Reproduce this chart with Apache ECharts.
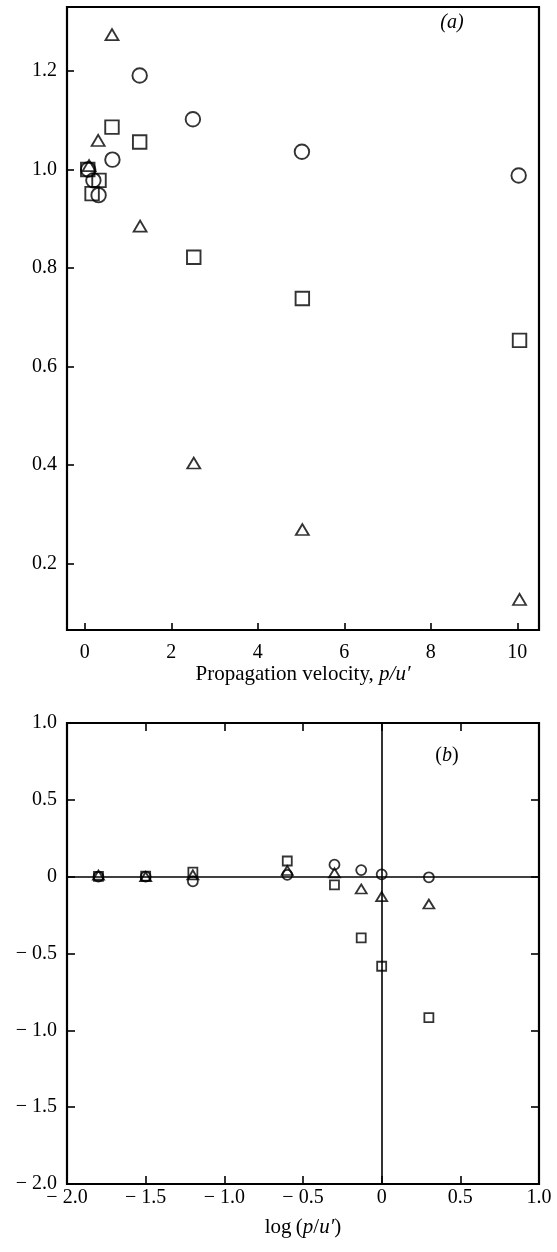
<!DOCTYPE html>
<html>
<head>
<meta charset="utf-8">
<script src="https://cdn.jsdelivr.net/npm/echarts@6/dist/echarts.min.js"></script>
<style>
  html, body { margin: 0; padding: 0; background: #fff; }
  #chart { width: 557px; height: 1252px; }
</style>
</head>
<body>
<div id="chart"></div>
<script>
// (a) ratio against propagation velocity p/u'
const velCircleX   = [0.08, 0.20, 0.32, 0.64, 1.27, 2.50, 5.02, 10.03];
const velCircleY   = [1.000, 0.978, 0.948, 1.020, 1.191, 1.102, 1.036, 0.988];
const velSquareX   = [0.07, 0.33, 0.17, 0.63, 1.27, 2.52, 5.03, 10.05];
const velSquareY   = [1.000, 0.978, 0.951, 1.086, 1.056, 0.822, 0.738, 0.653];
const velTriangleX = [0.10, 0.31, 0.63, 1.28, 2.52, 5.03, 10.05];
const velTriangleY = [1.008, 1.059, 1.274, 0.885, 0.404, 0.269, 0.127];
const velTicksX = [0, 2, 4, 6, 8, 10];
const velTicksY = [0.2, 0.4, 0.6, 0.8, 1.0, 1.2];

// (b) against log(p/u')
const logX        = [-1.8, -1.5, -1.2, -0.6, -0.3, -0.13, 0.0, 0.3];
const logCircleY  = [0.000, 0.000, -0.030, 0.012, 0.078, 0.043, 0.015, -0.004];
const logTriangleY= [0.010, 0.000, 0.012, 0.040, 0.025, -0.080, -0.130, -0.178];
const logSquareY  = [0.002, 0.003, 0.030, 0.102, -0.053, -0.398, -0.583, -0.917];

const FONT = 'Liberation Serif';
const zip = (xs, ys) => xs.map((x, i) => [x, ys[i]]);
const fmtSigned = v => v === 0 ? '0' : (v < 0 ? '\u2212 ' + Math.abs(v).toFixed(1) : v.toFixed(1));

const labelStyle = { fontFamily: FONT, fontSize: 20, color: '#000' };
const tickStyle = { color: '#000', width: 1.6 };

const hollow = (sym, size, w) => ({
  type: 'scatter',
  symbol: sym,
  symbolSize: size,
  itemStyle: { color: 'rgba(0,0,0,0)', borderColor: '#000', borderWidth: w },
  emphasis: { disabled: true },
  silent: true
});

const chart = echarts.init(document.getElementById('chart'), null, { renderer: 'canvas' });

chart.setOption({
  animation: false,
  backgroundColor: '#fff',
  grid: [
    { left: 67, top: 7, width: 472, height: 623, show: true, borderColor: '#000', borderWidth: 2.2, backgroundColor: 'transparent' },
    { left: 67, top: 723, width: 472, height: 461, show: true, borderColor: '#000', borderWidth: 2.2, backgroundColor: 'transparent' }
  ],
  xAxis: [
    {
      gridIndex: 0, type: 'value', min: -0.41, max: 10.5,
      axisLine: { show: false, onZero: false },
      splitLine: { show: false },
      axisTick: { show: true, inside: true, length: 7, customValues: velTicksX, lineStyle: tickStyle },
      axisLabel: Object.assign({ customValues: velTicksX, margin: 13, formatter: v => String(v) }, labelStyle),
      name: '{n|Propagation velocity, }{i|p/u\u2032}',
      nameLocation: 'middle', nameGap: 32,
      nameTextStyle: { rich: {
        n: { fontFamily: FONT, fontSize: 21, color: '#000' },
        i: { fontFamily: FONT, fontSize: 21, fontStyle: 'italic', color: '#000' }
      } }
    },
    {
      gridIndex: 1, type: 'value', min: -2, max: 1, interval: 0.5,
      axisLine: { show: false, onZero: false },
      splitLine: { show: false },
      axisTick: { show: true, inside: true, length: 8, lineStyle: tickStyle },
      axisLabel: Object.assign({ margin: 4, formatter: fmtSigned }, labelStyle),
      name: '{n|log\u2009(}{i|p}{n|/}{i|u\u2032}{n|)}',
      nameLocation: 'middle', nameGap: 33,
      nameTextStyle: { rich: {
        n: { fontFamily: FONT, fontSize: 21, color: '#000' },
        i: { fontFamily: FONT, fontSize: 21, fontStyle: 'italic', color: '#000' }
      } }
    },
    {
      gridIndex: 1, type: 'value', position: 'top', min: -2, max: 1, interval: 0.5,
      axisLine: { show: false, onZero: false },
      splitLine: { show: false },
      axisTick: { show: true, inside: true, length: 8, lineStyle: tickStyle },
      axisLabel: { show: false }
    }
  ],
  yAxis: [
    {
      gridIndex: 0, type: 'value', min: 0.065, max: 1.33,
      axisLine: { show: false, onZero: false },
      splitLine: { show: false },
      axisTick: { show: true, inside: true, length: 7, customValues: velTicksY, lineStyle: tickStyle },
      axisLabel: Object.assign({ customValues: velTicksY, margin: 10, formatter: v => v.toFixed(1) }, labelStyle)
    },
    {
      gridIndex: 1, type: 'value', min: -2, max: 1, interval: 0.5,
      axisLine: { show: false, onZero: false },
      splitLine: { show: false },
      axisTick: { show: true, inside: true, length: 8, lineStyle: tickStyle },
      axisLabel: Object.assign({ margin: 10, formatter: fmtSigned }, labelStyle)
    },
    {
      gridIndex: 1, type: 'value', position: 'right', min: -2, max: 1, interval: 0.5,
      axisLine: { show: false, onZero: false },
      splitLine: { show: false },
      axisTick: { show: true, inside: true, length: 8, lineStyle: tickStyle },
      axisLabel: { show: false }
    }
  ],
  series: [
    Object.assign(hollow('circle', 14.5, 1.9), { xAxisIndex: 0, yAxisIndex: 0, data: zip(velCircleX, velCircleY) }),
    Object.assign(hollow('rect', 13.5, 1.9), { xAxisIndex: 0, yAxisIndex: 0, data: zip(velSquareX, velSquareY) }),
    Object.assign(hollow('triangle', [13, 11], 1.8), { xAxisIndex: 0, yAxisIndex: 0, data: zip(velTriangleX, velTriangleY) }),

    Object.assign(hollow('circle', 10, 1.8), {
      xAxisIndex: 1, yAxisIndex: 1, data: zip(logX, logCircleY),
      markLine: {
        silent: true, symbol: 'none', animation: false,
        label: { show: false },
        lineStyle: { color: '#000', width: 1.6, type: 'solid' },
        emphasis: { disabled: true },
        data: [{ xAxis: 0 }, { yAxis: 0 }]
      }
    }),
    Object.assign(hollow('rect', 9, 1.8), { xAxisIndex: 1, yAxisIndex: 1, data: zip(logX, logSquareY) }),
    Object.assign(hollow('triangle', [11, 9], 1.8), { xAxisIndex: 1, yAxisIndex: 1, data: zip(logX, logTriangleY) })
  ],
  graphic: [
    {
      type: 'text', x: 452, y: 23, silent: true,
      style: { text: '(a)', font: 'italic 20px "Liberation Serif"', fill: '#000', align: 'center', verticalAlign: 'middle' }
    },
    {
      type: 'text', x: 447, y: 756, silent: true,
      style: {
        text: '{n|(}{i|b}{n|)}', align: 'center', verticalAlign: 'middle',
        rich: {
          n: { fontFamily: FONT, fontSize: 20, fill: '#000' },
          i: { fontFamily: FONT, fontSize: 20, fontStyle: 'italic', fill: '#000' }
        }
      }
    }
  ]
});
</script>
</body>
</html>
